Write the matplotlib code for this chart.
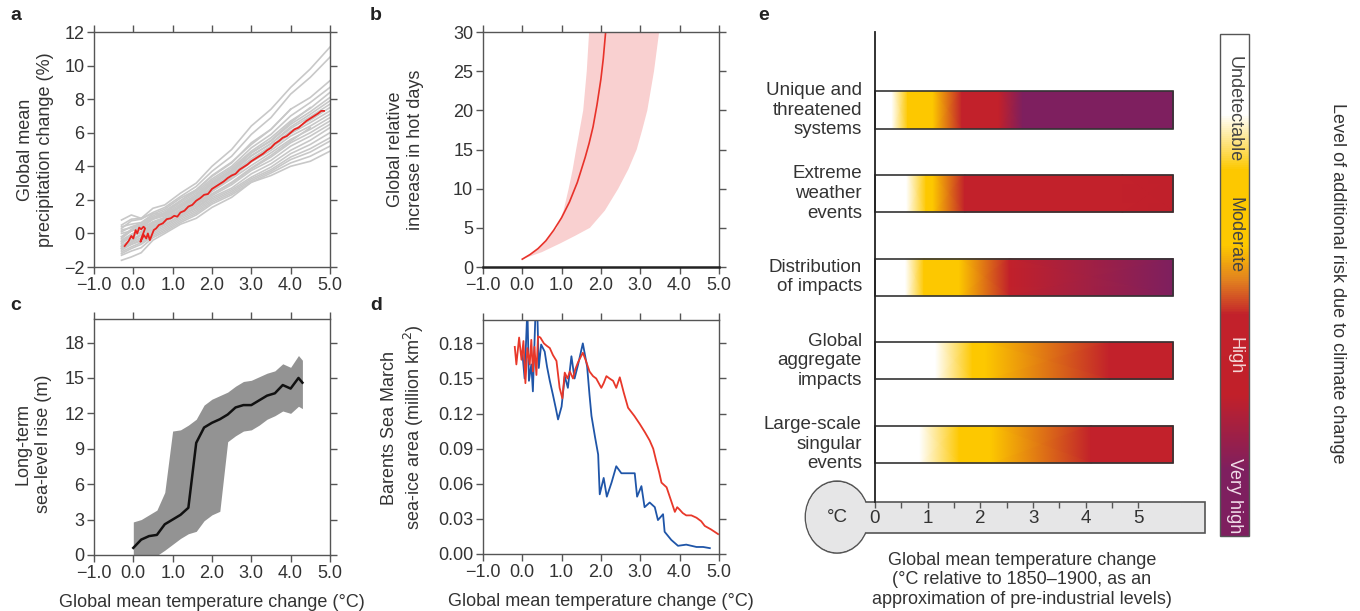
import numpy as np
import matplotlib
matplotlib.use("Agg")
import matplotlib.pyplot as plt
from matplotlib.colors import LinearSegmentedColormap, Normalize
from matplotlib.cm import ScalarMappable
from matplotlib.patches import Rectangle, Ellipse

plt.rcParams['font.family'] = ['Liberation Sans Narrow', 'Liberation Sans', 'DejaVu Sans']
TXT = '#333333'
SPINE = '#555555'

# shared temperature axis
temp_ticks = [-1, 0, 1, 2, 3, 4, 5]
temp_tick_labels = ["\u22121.0", "0.0", "1.0", "2.0", "3.0", "4.0", "5.0"]

# panel a: precipitation change, model runs (grey) and mean (red)
precip_grid_x = [-0.3, -0.05, 0.2, 0.5, 0.8, 1.2, 1.6, 2.0, 2.5, 3.0, 3.5, 4.0, 4.5, 5.0]
precip_models = [
    [0.5, 0.85, 0.9, 1.5, 1.7, 2.4, 3.0, 4.0, 5.0, 6.4, 7.4, 8.7, 9.8, 11.1],
    [0.3, 0.75, 0.85, 1.25, 1.55, 2.2, 2.8, 3.7, 4.6, 5.9, 6.9, 8.3, 9.3, 10.5],
    [0.4, 0.55, 0.65, 1.15, 1.45, 2.1, 2.6, 3.4, 4.2, 5.4, 6.2, 7.4, 8.1, 9.1],
    [0.1, 0.4, 0.6, 1.05, 1.35, 1.95, 2.5, 3.25, 4.0, 5.1, 5.9, 7.0, 7.8, 8.7],
    [0.2, 0.35, 0.5, 0.95, 1.25, 1.85, 2.4, 3.15, 3.9, 4.9, 5.7, 6.7, 7.45, 8.4],
    [-0.2, 0.15, 0.4, 0.85, 1.15, 1.75, 2.3, 3.05, 3.8, 4.8, 5.5, 6.5, 7.25, 8.1],
    [0.0, 0.15, 0.35, 0.85, 1.05, 1.65, 2.15, 2.9, 3.65, 4.6, 5.35, 6.35, 7.1, 7.9],
    [-0.4, -0.05, 0.25, 0.7, 0.95, 1.55, 2.1, 2.95, 3.7, 4.65, 5.35, 6.25, 6.95, 7.7],
    [-0.3, 0.15, 0.35, 0.65, 0.85, 1.45, 2.0, 2.8, 3.55, 4.45, 5.2, 6.1, 6.75, 7.5],
    [-0.6, -0.2, 0.1, 0.6, 0.8, 1.35, 1.9, 2.7, 3.45, 4.35, 5.1, 5.95, 6.6, 7.3],
    [-0.5, -0.15, 0.05, 0.5, 0.75, 1.35, 1.85, 2.6, 3.35, 4.25, 4.95, 5.8, 6.4, 7.1],
    [-0.8, -0.35, -0.05, 0.4, 0.65, 1.25, 1.75, 2.5, 3.25, 4.05, 4.8, 5.6, 6.2, 6.9],
    [-0.7, -0.4, -0.1, 0.45, 0.7, 1.15, 1.65, 2.35, 3.0, 3.85, 4.55, 5.4, 6.0, 6.7],
    [-0.9, -0.55, -0.25, 0.25, 0.55, 1.05, 1.55, 2.25, 2.9, 3.75, 4.35, 5.2, 5.8, 6.5],
    [-1.0, -0.65, -0.35, 0.15, 0.5, 1.05, 1.5, 2.15, 2.7, 3.55, 4.15, 4.95, 5.55, 6.3],
    [-0.9, -0.65, -0.45, 0.05, 0.4, 0.95, 1.4, 2.05, 2.6, 3.35, 3.95, 4.75, 5.3, 6.0],
    [-1.1, -0.8, -0.55, -0.05, 0.3, 0.85, 1.3, 1.95, 2.5, 3.25, 3.8, 4.55, 5.05, 5.7],
    [-1.2, -0.9, -0.65, -0.15, 0.2, 0.75, 1.2, 1.85, 2.4, 3.15, 3.7, 4.4, 4.85, 5.5],
    [-1.3, -1.05, -0.85, -0.25, 0.1, 0.65, 1.1, 1.75, 2.3, 3.05, 3.6, 4.2, 4.6, 5.2],
    [-1.6, -1.4, -1.15, -0.4, 0.0, 0.55, 0.9, 1.55, 2.15, 3.05, 3.45, 4.0, 4.3, 4.9],
    [-0.2, 0.25, 0.5, 0.95, 1.2, 1.95, 2.6, 3.45, 4.25, 5.3, 6.2, 7.4],
    [-0.5, -0.15, 0.1, 0.6, 0.95, 1.65, 2.25, 3.0, 3.75, 4.8, 5.55, 6.6, 7.5],
    [-0.8, -0.5, -0.1, 0.3, 0.8, 1.2, 1.75, 2.35, 3.05, 3.9, 4.65, 5.5, 6.3],
    [0.8, 1.1, 0.9, 1.2, 1.1, 1.6, 2.1, 2.6, 3.3],
]
precip_mean_x = [-0.22, -0.12, -0.05, 0.0, 0.06, 0.1, 0.15, 0.2, 0.26, 0.3, 0.22, 0.18,
                 0.27, 0.33, 0.37, 0.42, 0.47, 0.52, 0.58, 0.65, 0.75, 0.85, 0.95, 1.04,
                 1.12, 1.2, 1.3, 1.4, 1.5, 1.6, 1.7, 1.8, 1.9, 2.0, 2.1, 2.2, 2.3, 2.4,
                 2.5, 2.6, 2.7, 2.8, 2.9, 3.0, 3.1, 3.2, 3.3, 3.4, 3.5, 3.6, 3.7, 3.8,
                 3.9, 4.0, 4.1, 4.2, 4.3, 4.4, 4.5, 4.6, 4.7, 4.78, 4.85]
precip_mean_y = [-0.75, -0.45, -0.15, -0.3, 0.2, 0.0, 0.35, 0.25, 0.4, 0.3, -0.2, -0.5,
                 -0.1, -0.3, 0.0, -0.4, -0.1, 0.2, 0.3, 0.5, 0.6, 0.85, 0.9, 1.05,
                 1.0, 1.25, 1.35, 1.6, 1.7, 1.95, 2.1, 2.3, 2.35, 2.65, 2.8, 2.95, 3.1, 3.3,
                 3.45, 3.55, 3.8, 3.95, 4.1, 4.3, 4.45, 4.6, 4.75, 4.95, 5.1, 5.35, 5.5, 5.7,
                 5.8, 6.0, 6.2, 6.3, 6.5, 6.7, 6.85, 7.0, 7.15, 7.3, 7.3]

# panel b: relative increase in hot days
hot_x = [0.0, 0.2, 0.4, 0.6, 0.8, 1.0, 1.2, 1.4, 1.6, 1.7, 1.8, 1.9, 2.0, 2.06, 2.12]
hot_y = [1.0, 1.6, 2.35, 3.35, 4.7, 6.3, 8.3, 10.8, 14.0, 15.8, 17.9, 20.7, 24.0, 26.6, 30.0]
hot_hi_x = [0.0, 0.3, 0.6, 0.88, 1.05, 1.18, 1.28, 1.37, 1.46, 1.55, 1.64, 1.70]
hot_hi_y = [1.0, 1.9, 3.3, 5.0, 7.2, 10.0, 12.4, 15.0, 17.5, 20.0, 25.0, 30.0]
hot_lo_x = [0.0, 0.5, 0.96, 1.35, 1.72, 2.1, 2.44, 2.7, 2.91, 3.05, 3.18, 3.35, 3.48]
hot_lo_y = [1.0, 1.9, 3.0, 4.0, 5.0, 7.2, 10.0, 12.5, 15.0, 17.5, 20.0, 25.0, 30.0]

# panel c: long-term sea-level rise
slr_x = [0.0, 0.2, 0.4, 0.6, 0.8, 1.0, 1.2, 1.4, 1.6, 1.8, 2.0, 2.2, 2.4, 2.6, 2.8,
         3.0, 3.2, 3.4, 3.6, 3.8, 4.0, 4.2, 4.3]
slr_mid = [0.6, 1.3, 1.6, 1.7, 2.6, 3.0, 3.4, 4.0, 9.5, 10.8, 11.2, 11.5, 11.9, 12.5, 12.7,
           12.7, 13.1, 13.5, 13.7, 14.4, 14.1, 15.0, 14.6]
slr_lo = [-0.6, -0.4, -0.2, -0.05, 0.4, 0.9, 1.4, 1.8, 2.0, 2.9, 3.4, 3.7, 9.6, 10.1, 10.5,
          10.6, 11.0, 11.5, 11.8, 12.2, 12.0, 12.6, 12.4]
slr_hi = [2.8, 3.0, 3.4, 3.8, 5.3, 10.5, 10.6, 11.0, 11.5, 12.7, 13.2, 13.5, 13.8, 14.3, 14.7,
          14.8, 15.1, 15.4, 15.6, 16.2, 15.9, 16.9, 16.5]

# panel d: Barents Sea March sea-ice area
ice_red_x = [-0.19, -0.15, -0.08, -0.02, 0.03, 0.08, 0.13, 0.19, 0.23, 0.27, 0.31, 0.36,
             0.40, 0.46, 0.55, 0.62, 0.70, 0.78, 0.87, 0.95, 1.02, 1.08, 1.15, 1.21, 1.29,
             1.35, 1.42, 1.54, 1.62, 1.71, 1.80, 1.88, 2.01, 2.07, 2.14, 2.22, 2.31, 2.39,
             2.48, 2.58, 2.69, 2.85, 2.99, 3.12, 3.24, 3.33, 3.41, 3.48, 3.54, 3.67, 3.78,
             3.88, 3.94, 4.0, 4.08, 4.17, 4.3, 4.43, 4.55, 4.64, 4.8, 4.98]
ice_red_y = [0.177, 0.162, 0.185, 0.166, 0.182, 0.146, 0.176, 0.162, 0.183, 0.156, 0.177,
             0.153, 0.186, 0.185, 0.180, 0.178, 0.176, 0.170, 0.165, 0.142, 0.133, 0.155,
             0.150, 0.156, 0.150, 0.158, 0.164, 0.172, 0.165, 0.156, 0.152, 0.150, 0.142,
             0.146, 0.152, 0.150, 0.148, 0.142, 0.151, 0.138, 0.125, 0.118, 0.111, 0.104,
             0.097, 0.090, 0.079, 0.070, 0.061, 0.057, 0.046, 0.036, 0.040, 0.038, 0.035,
             0.033, 0.033, 0.031, 0.028, 0.024, 0.021, 0.017]
ice_blue_x = [0.0, 0.06, 0.13, 0.17, 0.23, 0.27, 0.34, 0.38, 0.42, 0.48, 0.57, 0.63, 0.70,
              0.78, 0.85, 0.91, 1.0, 1.08, 1.16, 1.25, 1.33, 1.42, 1.54, 1.65, 1.71, 1.76,
              1.85, 1.93, 1.97, 2.07, 2.15, 2.27, 2.39, 2.52, 2.73, 2.86, 2.92, 3.03, 3.11,
              3.24, 3.37, 3.45, 3.58, 3.62, 3.79, 3.96, 4.17, 4.43, 4.6, 4.77]
ice_blue_y = [0.173, 0.150, 0.210, 0.148, 0.162, 0.139, 0.210, 0.210, 0.159, 0.179, 0.173,
              0.160, 0.148, 0.136, 0.125, 0.115, 0.126, 0.152, 0.142, 0.169, 0.150, 0.162,
              0.180, 0.160, 0.136, 0.118, 0.100, 0.085, 0.051, 0.065, 0.049, 0.061, 0.075,
              0.069, 0.069, 0.069, 0.049, 0.058, 0.040, 0.044, 0.040, 0.029, 0.034, 0.019,
              0.012, 0.007, 0.008, 0.006, 0.006, 0.005]

# panel e: burning embers, risk level along temperature (0 = undetectable .. 1 = very high)
ember_names = ["Unique and\nthreatened\nsystems", "Extreme\nweather\nevents",
               "Distribution\nof impacts", "Global\naggregate\nimpacts",
               "Large-scale\nsingular\nevents"]
ember_temps = [
    [0, 0.32, 0.62, 1.1, 1.65, 2.35, 2.8, 5.66],
    [0, 0.6, 0.97, 1.1, 1.7, 4.7, 5.66],
    [0, 0.58, 0.93, 1.6, 2.55, 5.66],
    [0, 1.15, 1.85, 2.1, 4.45, 5.66],
    [0, 0.85, 1.6, 2.2, 4.1, 5.66],
]
ember_risk = [
    [0.08, 0.08, 0.35, 0.35, 0.64, 0.64, 0.93, 0.93],
    [0.08, 0.08, 0.35, 0.35, 0.64, 0.64, 0.72],
    [0.08, 0.08, 0.35, 0.35, 0.64, 0.93],
    [0.08, 0.08, 0.35, 0.35, 0.64, 0.64],
    [0.08, 0.08, 0.35, 0.35, 0.64, 0.64],
]
thermo_ticks = [0, 1, 2, 3, 4, 5]
risk_labels = ["Undetectable", "Moderate", "High", "Very high"]
risk_label_pos = [0.15, 0.40, 0.64, 0.92]
risk_label_colors = ['#444444', '#444444', '#f4d6d6', '#f0dce8']

risk_cmap = LinearSegmentedColormap.from_list("risk", [
    (0.0, '#ffffff'), (0.16, '#ffffff'), (0.27, '#fdc800'), (0.42, '#fdc800'),
    (0.49, '#e2821f'), (0.56, '#c2212b'), (0.72, '#c1202a'), (0.87, '#7e1f5f'),
    (1.0, '#7e1f5f')])


def style_axes(ax, ylim, yticks, ylabels):
    ax.set_xlim(-1, 5)
    ax.set_ylim(ylim)
    ax.set_xticks(temp_ticks)
    ax.set_xticklabels(temp_tick_labels)
    ax.set_yticks(yticks)
    ax.set_yticklabels(ylabels)
    ax.tick_params(direction='out', length=5, width=1, color=SPINE, labelsize=13,
                   labelcolor=TXT, top=True, right=True, pad=2)
    for s in ax.spines.values():
        s.set_color(SPINE)
        s.set_linewidth(1.0)


fig = plt.figure(figsize=(13.6, 6.11), dpi=100)

# ---- a
ax_a = fig.add_axes([0.0691, 0.5630, 0.1735, 0.3846])
for ys in precip_models:
    ax_a.plot(precip_grid_x[:len(ys)], ys, color='#c8c8c8', lw=1.2)
ax_a.plot(precip_mean_x, precip_mean_y, color='#e8221e', lw=1.3)
style_axes(ax_a, (-2, 12), [-2, 0, 2, 4, 6, 8, 10, 12],
           ["\u22122", "0", "2", "4", "6", "8", "10", "12"])
ax_a.set_ylabel("Global mean\nprecipitation change (%)", fontsize=13, color=TXT, linespacing=1.25)
ax_a.yaxis.set_label_coords(-0.17, 0.5)

# ---- b
ax_b = fig.add_axes([0.3551, 0.5630, 0.1735, 0.3846])
ax_b.fill(hot_hi_x + hot_lo_x[::-1], hot_hi_y + hot_lo_y[::-1], color='#f9d0d0', lw=0)
ax_b.plot(hot_x, hot_y, color='#e8322a', lw=1.2)
style_axes(ax_b, (0, 30), [0, 5, 10, 15, 20, 25, 30], ["0", "5", "10", "15", "20", "25", "30"])
ax_b.spines['bottom'].set_color('#222222')
ax_b.spines['bottom'].set_linewidth(1.8)
ax_b.set_ylabel("Global relative\nincrease in hot days", fontsize=13, color=TXT, linespacing=1.25)
ax_b.yaxis.set_label_coords(-0.25, 0.5)

# ---- c
ax_c = fig.add_axes([0.0691, 0.0917, 0.1735, 0.3863])
ax_c.fill_between(slr_x, slr_lo, slr_hi, color='#939393', lw=0)
ax_c.plot(slr_x, slr_mid, color='#111111', lw=1.8)
style_axes(ax_c, (0, 20), [0, 3, 6, 9, 12, 15, 18], ["0", "3", "6", "9", "12", "15", "18"])
ax_c.set_ylabel("Long-term\nsea-level rise (m)", fontsize=13, color=TXT, linespacing=1.25)
ax_c.yaxis.set_label_coords(-0.18, 0.47)
ax_c.set_xlabel("Global mean temperature change (\u00b0C)", fontsize=13, color=TXT, labelpad=9)

# ---- d
ax_d = fig.add_axes([0.3551, 0.0933, 0.1735, 0.3830])
ax_d.plot(ice_blue_x, ice_blue_y, color='#1f55a8', lw=1.3)
ax_d.plot(ice_red_x, ice_red_y, color='#e8382a', lw=1.3)
style_axes(ax_d, (0, 0.2), [0, 0.03, 0.06, 0.09, 0.12, 0.15, 0.18],
           ["0.00", "0.03", "0.06", "0.09", "0.12", "0.15", "0.18"])
ax_d.set_ylabel("Barents Sea March\nsea-ice area (million km$^2$)", fontsize=13, color=TXT,
                linespacing=1.25)
ax_d.yaxis.set_label_coords(-0.24, 0.54)
ax_d.set_xlabel("Global mean temperature change (\u00b0C)", fontsize=13, color=TXT, labelpad=9)

# ---- e
ax_e = fig.add_axes([0.5735, 0.0835, 0.3199, 0.8838])
ax_e.set_xlim(-1.803, 6.452)
ax_e.set_ylim(5.383, -1.077)
ax_e.axis('off')
bar_h = 0.443
for i, (name, ts, rs) in enumerate(zip(ember_names, ember_temps, ember_risk)):
    y0, y1 = i - bar_h / 2, i + bar_h / 2
    C = np.array([rs, rs])
    ax_e.pcolormesh(ts, [y0, y1], C, shading='gouraud', cmap=risk_cmap, vmin=0, vmax=1, zorder=2)
    ax_e.add_patch(Rectangle((0, y0), ts[-1], bar_h, fill=False, ec='#333333', lw=1.2, zorder=3))
    ax_e.text(-0.25, i, name, ha='right', va='center', ma='right', fontsize=13.5, color=TXT,
              linespacing=1.2)

# thermometer
tube_y0, tube_y1 = 4.69, 5.06
ax_e.add_patch(Ellipse((-0.72, 4.87), 1.2, 0.86, fc='#e6e6e7', ec='#555555', lw=1.2, zorder=1))
ax_e.add_patch(Rectangle((-0.72, tube_y0), 6.98, tube_y1 - tube_y0, fc='#e6e6e7', ec='#555555',
                         lw=1.2, zorder=2))
ax_e.add_patch(Ellipse((-0.72, 4.87), 1.18, 0.84, fc='#e6e6e7', ec='none', zorder=3))
ax_e.vlines(np.arange(0, 5.01, 0.5), tube_y0, tube_y0 + 0.07, color='#555555', lw=1, zorder=4)
ax_e.plot([0, 0], [-0.93, tube_y0], color='#222222', lw=1.3, zorder=4)
for t in thermo_ticks:
    ax_e.text(t, (tube_y0 + tube_y1) / 2 + 0.01, str(t), ha='center', va='center', fontsize=13.5,
              color=TXT, zorder=5)
ax_e.text(-0.72, 4.88, "\u00b0C", ha='center', va='center', fontsize=13.5, color=TXT, zorder=5)

fig.text(0.7515, 0.051, "Global mean temperature change\n(\u00b0C relative to 1850\u20131900, as an\n"
         "approximation of pre-industrial levels)", ha='center', va='center', ma='center',
         fontsize=13, color=TXT, linespacing=1.2)

# risk colour bar
cax = fig.add_axes([0.8971, 0.1227, 0.0213, 0.8216])
cb = fig.colorbar(ScalarMappable(norm=Normalize(0, 1), cmap=risk_cmap), cax=cax)
cax.invert_yaxis()
cb.set_ticks([])
cb.outline.set_edgecolor('#555555')
cb.outline.set_linewidth(1.0)
for lab, pos, col in zip(risk_labels, risk_label_pos, risk_label_colors):
    cax.text(0.5, pos, lab, rotation=270, ha='center', va='center', fontsize=13, color=col)
fig.text(0.9838, 0.5368, "Level of additional risk due to climate change", rotation=270,
         ha='center', va='center', fontsize=13, color=TXT)

for lab, x, y in [("a", 10, 15), ("b", 370, 15), ("c", 10, 305), ("d", 370, 305), ("e", 758, 15)]:
    fig.text(x / 1360, 1 - y / 611, lab, fontsize=14, fontweight='bold', color='#222222',
             ha='left', va='center')

fig.savefig("out.png", dpi=100)
